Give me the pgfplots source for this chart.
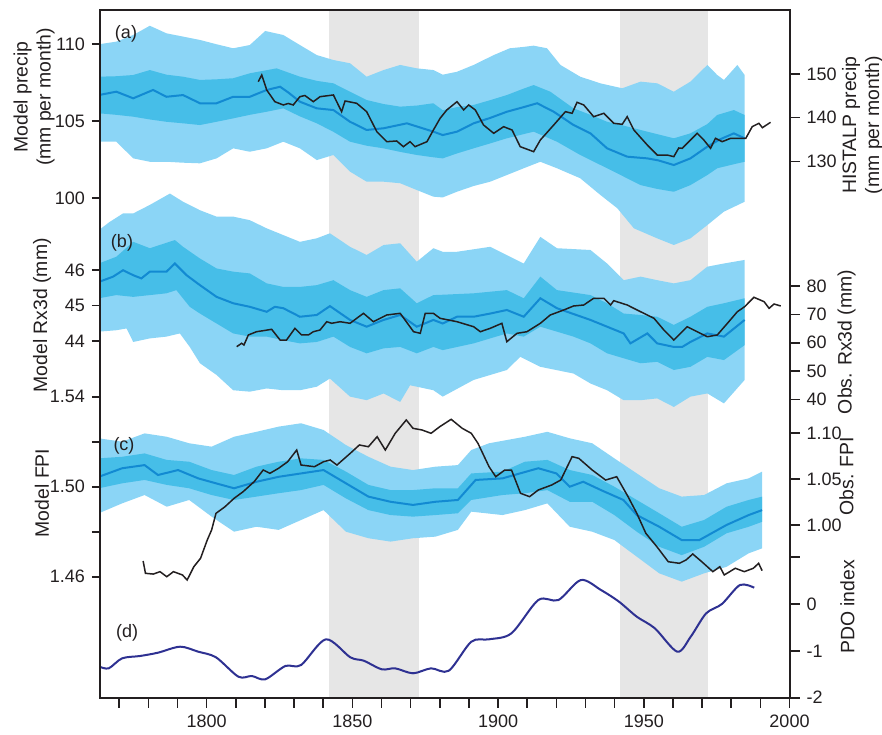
\documentclass[border=0pt]{standalone}
\usepackage{fontspec}
\setmainfont{Liberation Sans}
\usepackage{pgfplots}
\pgfplotsset{compat=1.18}
\usepgfplotslibrary{fillbetween}
\definecolor{lightb}{RGB}{139,213,246}
\definecolor{darkb}{RGB}{70,190,232}
\definecolor{meanb}{RGB}{18,138,210}
\definecolor{shade}{RGB}{230,230,230}
\definecolor{pdoc}{RGB}{46,49,146}
\definecolor{obs}{RGB}{35,31,32}
\pgfplotsset{
  /pgf/number format/assume math mode=true,
  every axis/.append style={scale only axis, width=344.75pt, height=343.85pt,
    xmin=1763.4, xmax=2000, tick align=outside,
    every tick label/.append style={font=\fontsize{9}{10}\selectfont, text=obs},
    tick style={line width=0.8pt, color=obs}},
  ov/.style={at={(base.south west)}, anchor=south west, hide x axis, xtick=\empty},
  ovl/.style={ov, axis y line*=left, major tick length=4pt},
  ovr/.style={ov, axis y line*=right, major tick length=5pt},
  band/.style={draw=none, forget plot},
}
\begin{document}
\begin{tikzpicture}
% base: grey periods (drawn with fill between so that they lie under the bands)
\begin{axis}[name=base, ymin=0, ymax=1, axis lines=none, xtick=\empty, ytick=\empty]
\addplot[band, name path=g1b] coordinates {(1842,0) (1873,0)};
\addplot[band, name path=g1t] coordinates {(1842,1) (1873,1)};
\addplot[fill=shade, draw=none] fill between[of=g1t and g1b];
\addplot[band, name path=g2b] coordinates {(1942,0) (1972,0)};
\addplot[band, name path=g2t] coordinates {(1942,1) (1972,1)};
\addplot[fill=shade, draw=none] fill between[of=g2t and g2b];
\end{axis}
% ---------------- panel a (model, left) ----------------
\begin{axis}[ovl, ymin=67.65, ymax=112.19, ytick={100,105,110}, yticklabels={100,105,110}]
\addplot[band, name path=aot] table[row sep=\\] {x y\\
1763.0 109.97\\ 1769.0 110.14\\ 1774.8 110.57\\ 1780.5 111.17\\ 1786.2 110.68\\ 1797.7 110.25\\
1803.4 109.97\\ 1809.1 109.71\\ 1814.8 109.92\\ 1820.1 110.83\\ 1826.3 110.57\\ 1832.0 109.92\\
1837.8 109.27\\ 1843.5 108.95\\ 1849.2 108.74\\ 1854.9 107.87\\ 1860.7 108.30\\ 1866.4 108.63\\
1872.1 108.41\\ 1877.8 108.30\\ 1881.0 108.00\\ 1885.9 108.19\\ 1891.6 108.63\\ 1898.5 109.27\\
1904.0 109.71\\ 1908.8 109.80\\ 1912.2 109.88\\ 1916.8 109.71\\ 1921.4 108.63\\ 1928.2 107.87\\
1935.1 107.44\\ 1942.6 107.12\\ 1948.9 107.55\\ 1954.6 107.44\\ 1960.3 106.90\\ 1966.0 107.55\\
1971.8 108.63\\ 1975.2 107.98\\ 1977.5 107.66\\ 1982.1 108.63\\ 1984.6 107.98\\};
\addplot[band, name path=aob] table[row sep=\\] {x y\\
1763.0 103.66\\ 1769.0 103.66\\ 1774.8 102.58\\ 1780.5 102.36\\ 1786.2 102.36\\ 1791.9 102.30\\
1797.7 102.26\\ 1803.4 102.58\\ 1809.1 103.23\\ 1814.8 103.01\\ 1820.6 103.23\\ 1826.3 103.66\\
1832.0 103.23\\ 1837.8 102.47\\ 1843.5 102.80\\ 1849.2 101.72\\ 1854.9 101.07\\ 1860.7 101.07\\
1866.4 100.97\\ 1872.1 100.53\\ 1877.8 100.10\\ 1881.0 100.05\\ 1885.9 100.42\\ 1891.6 100.79\\
1897.3 101.07\\ 1903.0 101.50\\ 1908.8 101.94\\ 1914.5 102.36\\ 1920.2 101.94\\ 1928.2 101.29\\
1935.1 100.21\\ 1940.9 99.35\\ 1946.6 98.05\\ 1954.6 97.40\\ 1960.3 96.97\\ 1966.0 97.40\\
1971.8 98.26\\ 1977.5 99.13\\ 1984.6 99.77\\};
\addplot[fill=lightb, draw=none] fill between[of=aot and aob];
\addplot[band, name path=adt] table[row sep=\\] {x y\\
1763.0 107.87\\ 1769.0 107.90\\ 1774.8 107.98\\ 1780.5 108.30\\ 1786.2 108.00\\ 1791.9 107.87\\
1797.7 107.66\\ 1803.4 107.70\\ 1809.1 107.77\\ 1814.8 108.09\\ 1824.0 108.41\\ 1832.0 107.87\\
1837.8 107.60\\ 1843.5 107.44\\ 1849.2 106.90\\ 1854.9 106.36\\ 1860.7 106.10\\ 1866.4 105.93\\
1872.1 106.00\\ 1877.8 106.15\\ 1881.0 105.70\\ 1885.9 105.90\\ 1891.6 106.04\\ 1897.3 106.35\\
1903.0 106.68\\ 1908.8 107.10\\ 1912.2 107.33\\ 1917.9 106.90\\ 1925.9 105.82\\ 1931.7 105.40\\
1937.4 104.95\\ 1943.1 104.70\\ 1948.9 104.42\\ 1954.6 104.15\\ 1960.3 103.88\\ 1966.0 104.20\\
1971.8 104.80\\ 1975.2 105.39\\ 1980.9 105.71\\ 1984.6 105.39\\};
\addplot[band, name path=adb] table[row sep=\\] {x y\\
1763.0 105.50\\ 1769.0 105.40\\ 1774.8 105.28\\ 1780.5 105.10\\ 1786.2 104.95\\ 1791.9 104.85\\
1797.7 104.74\\ 1803.4 104.95\\ 1809.1 105.17\\ 1814.8 105.40\\ 1820.6 105.60\\ 1826.3 105.82\\
1832.0 105.30\\ 1837.8 104.85\\ 1843.5 104.30\\ 1849.2 103.66\\ 1854.9 103.40\\ 1860.7 103.23\\
1866.4 103.00\\ 1872.1 102.80\\ 1877.8 102.65\\ 1881.0 102.58\\ 1885.9 102.90\\ 1891.6 103.23\\
1897.3 103.55\\ 1903.0 103.88\\ 1912.2 104.31\\ 1920.2 103.66\\ 1928.2 102.80\\ 1937.4 101.94\\
1943.1 101.40\\ 1948.9 100.85\\ 1954.6 100.60\\ 1960.3 100.42\\ 1966.0 100.85\\ 1971.8 101.50\\
1975.2 101.94\\ 1980.9 102.20\\ 1984.6 102.36\\};
\addplot[fill=darkb, draw=none] fill between[of=adt and adb];
\addplot[meanb, line width=1pt] table[row sep=\\] {x y\\
1763.0 106.68\\ 1769.0 106.90\\ 1774.8 106.47\\ 1781.6 107.01\\ 1786.2 106.57\\ 1791.9 106.68\\
1797.7 106.15\\ 1803.4 106.15\\ 1809.1 106.57\\ 1814.8 106.57\\ 1820.6 107.01\\ 1825.2 107.22\\
1828.0 106.85\\ 1832.0 106.25\\ 1837.8 105.82\\ 1843.5 105.71\\ 1849.2 104.95\\ 1854.9 104.42\\
1860.7 104.53\\ 1868.7 104.85\\ 1877.8 104.31\\ 1881.0 104.09\\ 1885.9 104.31\\ 1891.6 104.85\\
1897.3 105.20\\ 1903.0 105.60\\ 1908.8 105.90\\ 1913.4 106.15\\ 1919.1 105.60\\ 1925.9 104.74\\
1931.7 104.20\\ 1937.4 103.23\\ 1944.3 102.69\\ 1951.2 102.58\\ 1955.0 102.45\\ 1960.3 102.15\\
1966.0 102.58\\ 1971.8 103.34\\ 1976.0 103.80\\ 1980.9 104.20\\ 1984.6 103.88\\};
\end{axis}
% ---------------- panel a (HISTALP, right) ----------------
\begin{axis}[ovr, ymin=7.73, ymax=164.56, ytick={130,140,150}, yticklabels={130,140,150}]
\addplot[obs, line width=0.75pt] table[row sep=\\] {x y\\
1817.7 148.21\\ 1818.9 149.74\\ 1820.6 146.32\\ 1823.4 143.65\\ 1826.3 142.90\\ 1828.0 143.24\\
1829.7 142.90\\ 1832.0 144.79\\ 1833.7 145.06\\ 1836.6 143.65\\ 1838.9 144.79\\ 1843.5 145.18\\
1846.3 141.37\\ 1847.5 143.81\\ 1851.5 143.28\\ 1854.9 141.37\\ 1858.4 136.81\\ 1861.8 134.53\\
1865.2 134.69\\ 1867.5 133.39\\ 1869.8 134.53\\ 1871.5 133.39\\ 1875.6 134.53\\ 1877.8 137.19\\
1880.1 139.86\\ 1882.4 141.76\\ 1885.9 143.65\\ 1888.2 141.76\\ 1889.9 142.90\\ 1892.2 141.76\\
1895.0 138.34\\ 1898.5 136.44\\ 1901.9 137.95\\ 1904.8 137.19\\ 1907.6 133.39\\ 1912.2 132.25\\
1914.5 134.91\\ 1919.1 138.34\\ 1923.1 141.37\\ 1925.4 141.00\\ 1927.1 143.51\\ 1929.4 142.90\\
1932.8 140.23\\ 1936.3 141.00\\ 1939.7 138.72\\ 1942.6 138.49\\ 1944.3 140.23\\ 1946.6 137.19\\
1951.2 133.77\\ 1954.6 131.49\\ 1958.0 131.49\\ 1960.3 131.11\\ 1962.0 133.09\\ 1963.2 133.02\\
1964.9 134.16\\ 1968.3 136.44\\ 1970.6 134.91\\ 1972.9 133.02\\ 1974.6 135.30\\ 1976.9 134.53\\
1979.8 135.30\\ 1985.0 135.30\\ 1987.2 137.95\\ 1989.5 138.72\\ 1990.7 137.72\\ 1993.5 138.95\\};
\end{axis}
% ---------------- panel b (model, left) ----------------
\begin{axis}[ovl, ymin=33.95, ymax=53.32, ytick={44,45,46}, yticklabels={44,45,46}]
\addplot[band, name path=bot] table[row sep=\\] {x y\\
1763.0 47.12\\ 1766.7 47.35\\ 1771.3 47.59\\ 1774.8 47.59\\ 1780.5 47.83\\ 1787.4 48.15\\
1791.9 47.92\\ 1797.7 47.68\\ 1803.4 47.50\\ 1809.1 47.50\\ 1814.8 47.40\\ 1820.6 47.17\\
1826.3 46.98\\ 1832.0 46.79\\ 1837.8 46.89\\ 1842.3 47.03\\ 1849.2 46.65\\ 1854.9 46.42\\
1860.7 46.70\\ 1866.4 46.75\\ 1872.1 46.23\\ 1877.8 46.61\\ 1881.0 46.51\\ 1885.9 46.51\\
1897.3 46.65\\ 1908.8 46.18\\ 1914.5 46.93\\ 1920.2 46.61\\ 1931.7 46.56\\ 1937.4 46.18\\
1943.1 45.71\\ 1948.9 45.81\\ 1954.6 45.71\\ 1960.3 45.62\\ 1966.0 45.71\\ 1971.8 46.09\\
1977.5 46.18\\ 1984.6 46.28\\};
\addplot[band, name path=bob] table[row sep=\\] {x y\\
1763.0 44.26\\ 1769.0 44.30\\ 1772.5 44.35\\ 1774.8 43.97\\ 1780.5 44.07\\ 1786.2 44.12\\
1790.8 44.21\\ 1794.2 43.83\\ 1797.7 43.37\\ 1803.4 43.04\\ 1809.1 42.61\\ 1814.8 42.57\\
1820.6 42.66\\ 1826.3 42.61\\ 1832.0 42.61\\ 1837.8 42.71\\ 1842.3 42.94\\ 1849.2 42.43\\
1854.9 42.33\\ 1860.7 42.52\\ 1866.4 42.28\\ 1869.8 42.75\\ 1877.8 42.61\\ 1881.0 42.43\\
1891.6 42.90\\ 1903.0 43.18\\ 1907.6 43.55\\ 1914.5 43.27\\ 1925.9 43.08\\ 1931.7 42.80\\
1937.4 42.61\\ 1943.1 42.33\\ 1948.9 42.33\\ 1954.6 42.38\\ 1960.3 42.14\\ 1966.0 42.43\\
1971.8 42.52\\ 1977.5 42.24\\ 1984.6 42.90\\};
\addplot[fill=lightb, draw=none] fill between[of=bot and bob];
\addplot[band, name path=bdt] table[row sep=\\] {x y\\
1763.0 46.18\\ 1769.0 46.37\\ 1774.8 46.79\\ 1780.5 46.61\\ 1789.1 46.84\\ 1791.9 46.65\\
1797.7 46.32\\ 1803.4 46.04\\ 1809.1 45.95\\ 1814.8 45.90\\ 1820.6 45.62\\ 1826.3 45.52\\
1832.0 45.52\\ 1837.8 45.57\\ 1843.5 45.71\\ 1849.2 45.43\\ 1854.9 45.24\\ 1860.7 45.43\\
1866.4 45.48\\ 1872.1 45.06\\ 1877.8 45.29\\ 1881.0 45.30\\ 1891.6 45.34\\ 1903.0 45.43\\
1908.8 45.20\\ 1914.5 45.81\\ 1920.2 45.43\\ 1931.7 45.29\\ 1937.4 45.06\\ 1943.1 44.77\\
1948.9 44.73\\ 1954.6 44.68\\ 1960.3 44.45\\ 1966.0 44.68\\ 1971.8 44.96\\ 1977.5 45.06\\
1984.6 45.20\\};
\addplot[band, name path=bdb] table[row sep=\\] {x y\\
1763.0 45.20\\ 1769.0 45.29\\ 1774.8 45.24\\ 1780.5 45.29\\ 1786.2 45.34\\ 1789.6 45.43\\
1794.2 44.96\\ 1797.7 44.77\\ 1803.4 44.49\\ 1809.1 44.21\\ 1814.8 44.12\\ 1820.6 44.12\\
1826.3 44.02\\ 1832.0 43.93\\ 1837.8 43.97\\ 1843.5 44.12\\ 1849.2 43.83\\ 1854.9 43.65\\
1860.7 43.79\\ 1866.4 43.83\\ 1872.1 43.65\\ 1877.8 43.83\\ 1881.0 43.74\\ 1891.6 43.93\\
1903.0 44.21\\ 1908.8 44.12\\ 1914.5 44.40\\ 1925.9 44.12\\ 1931.7 43.93\\ 1937.4 43.65\\
1943.1 43.51\\ 1948.9 43.37\\ 1954.6 43.41\\ 1960.3 43.18\\ 1966.0 43.27\\ 1971.8 43.55\\
1977.5 43.46\\ 1984.6 43.88\\};
\addplot[fill=darkb, draw=none] fill between[of=bdt and bdb];
\addplot[meanb, line width=1pt] table[row sep=\\] {x y\\
1763.0 45.66\\ 1767.9 45.81\\ 1771.3 45.99\\ 1774.8 45.85\\ 1777.6 45.76\\ 1780.5 45.95\\
1786.2 45.95\\ 1789.1 46.18\\ 1793.1 45.85\\ 1797.7 45.57\\ 1803.4 45.24\\ 1809.1 45.06\\
1814.8 44.96\\ 1820.6 44.82\\ 1823.4 44.96\\ 1826.3 44.92\\ 1832.0 44.68\\ 1837.8 44.73\\
1842.3 44.98\\ 1849.2 44.59\\ 1854.9 44.40\\ 1860.7 44.59\\ 1866.4 44.73\\ 1872.1 44.40\\
1877.8 44.59\\ 1881.0 44.49\\ 1885.9 44.68\\ 1891.6 44.68\\ 1897.3 44.77\\ 1903.0 44.87\\
1908.8 44.68\\ 1914.5 45.20\\ 1920.2 44.92\\ 1931.7 44.59\\ 1937.4 44.40\\ 1943.1 44.21\\
1945.4 43.93\\ 1951.2 44.21\\ 1954.6 43.93\\ 1960.3 43.83\\ 1963.2 43.83\\ 1966.0 43.97\\
1971.8 44.21\\ 1977.5 44.12\\ 1984.6 44.59\\};
\end{axis}
% ---------------- panel b (obs, right) ----------------
\begin{axis}[ovr, ymin=-65.33, ymax=177.46, ytick={40,50,60,70,80}, yticklabels={40,50,60,70,80}]
\addplot[obs, line width=0.75pt] table[row sep=\\] {x y\\
1810.3 58.59\\ 1812.0 59.79\\ 1812.8 59.19\\ 1814.3 62.72\\ 1817.1 63.88\\ 1819.4 64.24\\
1822.3 64.73\\ 1825.2 60.95\\ 1827.4 60.95\\ 1830.3 65.08\\ 1832.6 62.72\\ 1834.9 62.72\\
1836.6 63.88\\ 1838.9 64.48\\ 1841.2 67.41\\ 1842.9 66.85\\ 1845.8 67.41\\ 1849.2 66.85\\
1853.8 70.38\\ 1857.2 67.41\\ 1861.8 69.78\\ 1866.4 70.38\\ 1871.0 63.88\\ 1873.3 63.32\\
1875.0 70.38\\ 1877.8 70.38\\ 1880.1 68.61\\ 1885.9 67.41\\ 1891.6 65.65\\ 1893.9 63.88\\
1897.3 65.08\\ 1901.3 66.85\\ 1903.0 60.35\\ 1906.5 63.32\\ 1909.9 63.88\\ 1914.5 66.85\\
1917.9 69.78\\ 1922.5 71.54\\ 1925.9 72.96\\ 1929.4 73.31\\ 1932.8 75.68\\ 1936.3 75.68\\
1938.6 73.31\\ 1939.7 74.83\\ 1944.3 73.31\\ 1948.9 70.94\\ 1953.5 68.61\\ 1956.9 64.48\\
1960.3 60.95\\ 1964.9 65.65\\ 1968.3 63.88\\ 1971.8 62.12\\ 1975.2 62.72\\ 1978.7 66.85\\
1982.1 70.94\\ 1984.6 72.71\\ 1987.8 76.03\\ 1991.3 74.47\\ 1993.0 72.14\\ 1994.7 73.66\\
1997.0 72.96\\};
\end{axis}
% ---------------- panel c (model, left) ----------------
\begin{axis}[ovl, ymin=1.40622, ymax=1.71187, ytick={1.46,1.48,1.50,1.52,1.54}, yticklabels={1.46,,1.50,,1.54}]
\addplot[band, name path=cot] table[row sep=\\] {x y\\
1763.0 1.5215\\ 1771.0 1.5200\\ 1778.7 1.5237\\ 1786.3 1.5222\\ 1794.0 1.5193\\ 1801.7 1.5178\\
1809.4 1.5222\\ 1817.1 1.5244\\ 1824.7 1.5267\\ 1832.4 1.5282\\ 1840.1 1.5252\\ 1847.8 1.5185\\
1855.5 1.5133\\ 1863.1 1.5089\\ 1870.8 1.5074\\ 1878.5 1.5089\\ 1886.2 1.5096\\ 1890.8 1.5163\\
1896.9 1.5193\\ 1909.2 1.5222\\ 1916.9 1.5244\\ 1924.6 1.5215\\ 1932.3 1.5193\\ 1939.9 1.5126\\
1947.6 1.5059\\ 1955.3 1.4993\\ 1963.0 1.4956\\ 1970.7 1.4963\\ 1978.4 1.5015\\ 1986.0 1.5037\\
1990.6 1.5067\\};
\addplot[band, name path=cob] table[row sep=\\] {x y\\
1763.0 1.4882\\ 1771.0 1.4926\\ 1778.7 1.4963\\ 1786.3 1.4911\\ 1794.0 1.4941\\ 1801.7 1.4867\\
1809.4 1.4800\\ 1817.1 1.4822\\ 1824.7 1.4808\\ 1832.4 1.4852\\ 1840.1 1.4896\\ 1847.8 1.4800\\
1855.5 1.4771\\ 1863.1 1.4756\\ 1870.8 1.4771\\ 1878.5 1.4778\\ 1886.2 1.4808\\ 1890.8 1.4889\\
1901.5 1.4874\\ 1909.2 1.4896\\ 1916.9 1.4926\\ 1924.6 1.4822\\ 1932.3 1.4800\\ 1939.9 1.4763\\
1947.6 1.4689\\ 1955.3 1.4615\\ 1963.0 1.4578\\ 1970.7 1.4615\\ 1978.4 1.4644\\ 1986.0 1.4704\\
1990.6 1.4726\\};
\addplot[fill=lightb, draw=none] fill between[of=cot and cob];
\addplot[band, name path=cdt] table[row sep=\\] {x y\\
1763.0 1.5126\\ 1771.0 1.5133\\ 1778.7 1.5148\\ 1786.3 1.5119\\ 1794.0 1.5111\\ 1801.7 1.5074\\
1809.4 1.5052\\ 1817.1 1.5089\\ 1824.7 1.5111\\ 1832.4 1.5126\\ 1840.1 1.5119\\ 1847.8 1.5067\\
1855.5 1.5008\\ 1863.1 1.4985\\ 1870.8 1.4985\\ 1878.5 1.4993\\ 1886.2 1.4993\\ 1890.8 1.5059\\
1901.5 1.5067\\ 1909.2 1.5111\\ 1916.9 1.5119\\ 1924.6 1.5074\\ 1932.3 1.5052\\ 1939.9 1.5000\\
1947.6 1.4941\\ 1955.3 1.4882\\ 1963.0 1.4822\\ 1970.7 1.4852\\ 1978.4 1.4911\\ 1986.0 1.4941\\
1990.6 1.4956\\};
\addplot[band, name path=cdb] table[row sep=\\] {x y\\
1763.0 1.4993\\ 1771.0 1.5015\\ 1778.7 1.5030\\ 1786.3 1.5008\\ 1794.0 1.4993\\ 1801.7 1.4963\\
1809.4 1.4941\\ 1817.1 1.4956\\ 1824.7 1.4971\\ 1832.4 1.4985\\ 1840.1 1.5008\\ 1847.8 1.4948\\
1855.5 1.4896\\ 1863.1 1.4874\\ 1870.8 1.4867\\ 1878.5 1.4874\\ 1886.2 1.4882\\ 1890.8 1.4941\\
1901.5 1.4963\\ 1909.2 1.4971\\ 1916.9 1.4985\\ 1924.6 1.4933\\ 1932.3 1.4933\\ 1939.9 1.4874\\
1947.6 1.4800\\ 1955.3 1.4733\\ 1963.0 1.4696\\ 1970.7 1.4733\\ 1978.4 1.4793\\ 1986.0 1.4822\\
1990.6 1.4844\\};
\addplot[fill=darkb, draw=none] fill between[of=cdt and cdb];
\addplot[meanb, line width=1pt] table[row sep=\\] {x y\\
1763.0 1.5044\\ 1771.0 1.5082\\ 1778.7 1.5096\\ 1783.3 1.5052\\ 1790.2 1.5074\\ 1797.1 1.5037\\
1803.2 1.5015\\ 1809.4 1.4993\\ 1817.1 1.5022\\ 1824.7 1.5044\\ 1832.4 1.5059\\ 1840.1 1.5074\\
1847.8 1.5015\\ 1855.5 1.4956\\ 1863.1 1.4933\\ 1870.8 1.4919\\ 1878.5 1.4933\\ 1886.2 1.4941\\
1892.3 1.5030\\ 1901.5 1.5037\\ 1913.8 1.5082\\ 1920.0 1.5059\\ 1924.6 1.5000\\ 1929.2 1.5022\\
1935.3 1.4985\\ 1943.0 1.4941\\ 1947.6 1.4874\\ 1955.3 1.4822\\ 1963.0 1.4763\\ 1969.1 1.4763\\
1978.4 1.4830\\ 1986.0 1.4874\\ 1990.6 1.4896\\};
\end{axis}
% ---------------- panel c (obs, right) ----------------
\begin{axis}[ovr, ymin=0.8126, ymax=1.5601, ytick={1.00,1.05,1.10}, yticklabels={1.00,1.05,1.10}]
\addplot[obs, line width=0.75pt] table[row sep=\\] {x y\\
1778.2 0.9612\\ 1779.0 0.9478\\ 1781.7 0.9470\\ 1784.0 0.9496\\ 1786.3 0.9441\\ 1788.6 0.9496\\
1791.7 0.9460\\ 1793.3 0.9405\\ 1795.6 0.9550\\ 1797.9 0.9641\\ 1800.2 0.9840\\ 1801.7 0.9949\\
1803.2 1.0130\\ 1806.3 1.0202\\ 1809.4 1.0293\\ 1812.5 1.0365\\ 1816.3 1.0474\\ 1819.4 1.0601\\
1821.7 1.0565\\ 1824.7 1.0620\\ 1827.8 1.0691\\ 1830.9 1.0818\\ 1832.4 1.0655\\ 1837.0 1.0637\\
1840.1 1.0691\\ 1842.4 1.0710\\ 1844.7 1.0655\\ 1849.3 1.0783\\ 1852.4 1.0873\\ 1855.5 1.0854\\
1858.5 1.0963\\ 1861.3 1.0818\\ 1864.7 1.1000\\ 1868.5 1.1145\\ 1870.8 1.1054\\ 1873.9 1.1036\\
1877.0 1.1000\\ 1880.0 1.1072\\ 1883.9 1.1152\\ 1887.7 1.1054\\ 1890.8 1.1000\\ 1893.1 1.0891\\
1896.9 1.0637\\ 1899.2 1.0528\\ 1902.3 1.0601\\ 1904.6 1.0601\\ 1907.7 1.0348\\ 1910.8 1.0311\\
1913.8 1.0384\\ 1918.4 1.0438\\ 1921.5 1.0492\\ 1925.4 1.0746\\ 1927.7 1.0728\\ 1932.3 1.0601\\
1936.9 1.0492\\ 1940.7 1.0528\\ 1944.6 1.0311\\ 1947.6 1.0130\\ 1950.7 0.9913\\ 1954.5 0.9767\\
1958.4 0.9604\\ 1962.2 0.9587\\ 1964.5 0.9623\\ 1966.8 0.9688\\ 1969.9 0.9604\\ 1973.7 0.9496\\
1976.1 0.9550\\ 1977.6 0.9460\\ 1981.4 0.9533\\ 1984.5 0.9496\\ 1987.6 0.9533\\ 1989.4 0.9587\\
1990.6 0.9507\\};
\end{axis}
% ---------------- panel d (PDO, right) ----------------
\begin{axis}[ovr, ymin=-2, ymax=12.68, ytick={-2,-1,0,1}, yticklabels={-2,-1,0,{}}]
\addplot[pdoc, line width=1pt, smooth, tension=0.5] table[row sep=\\] {x y\\
1763.3 -1.338\\ 1766.4 -1.373\\ 1771.0 -1.159\\ 1777.1 -1.110\\ 1783.3 -1.039\\ 1790.9 -0.911\\
1797.1 -1.018\\ 1803.2 -1.138\\ 1810.9 -1.552\\ 1815.5 -1.537\\ 1820.1 -1.607\\ 1827.0 -1.323\\
1832.4 -1.302\\ 1840.9 -0.754\\ 1849.3 -1.138\\ 1853.9 -1.210\\ 1860.1 -1.394\\ 1864.7 -1.373\\
1870.8 -1.479\\ 1877.0 -1.373\\ 1883.1 -1.424\\ 1890.8 -0.805\\ 1896.9 -0.754\\ 1904.6 -0.625\\
1913.8 0.085\\ 1920.7 0.085\\ 1928.4 0.512\\ 1935.3 0.299\\ 1941.5 0.049\\ 1947.6 -0.271\\
1953.8 -0.519\\ 1961.5 -1.018\\ 1966.1 -0.698\\ 1971.4 -0.199\\ 1976.8 0.000\\ 1983.0 0.406\\
1987.9 0.348\\};
\end{axis}
% ---------------- frame and x axis ----------------
\begin{axis}[at={(base.south west)}, anchor=south west, ymin=0, ymax=1, ytick=\empty,
  axis line style={line width=1pt, obs},
  xtick={1800,1850,1900,1950,2000}, xticklabels={1800,1850,1900,1950,2000},
  minor xtick={1770,1780,1790,1810,1820,1830,1840,1860,1870,1880,1890,1910,1920,1930,1940,1960,1970,1980,1990},
  xtick pos=left, major tick length=5pt, minor tick length=5pt,
  minor tick style={line width=0.8pt, obs}, clip=false]
\begin{scope}[every node/.style={font=\fontsize{9.7}{11.5}\selectfont, text=obs, align=center}]
\node[xshift=-33pt, rotate=90] at (rel axis cs:0,0.8735) {Model precip\\(mm per month)};
\node[xshift=-29pt, rotate=90] at (rel axis cs:0,0.556) {Model Rx3d (mm)};
\node[xshift=-29pt, rotate=90] at (rel axis cs:0,0.2977) {Model FPI};
\node[xshift=36.5pt, rotate=90] at (rel axis cs:1,0.8326) {HISTALP precip\\(mm per month)};
\node[xshift=28.5pt, rotate=90] at (rel axis cs:1,0.5172) {Obs. Rx3d (mm)};
\node[xshift=28.5pt, rotate=90] at (rel axis cs:1,0.3224) {Obs. FPI};
\node[xshift=29pt, rotate=90] at (rel axis cs:1,0.1319) {PDO index};
\end{scope}
\begin{scope}[every node/.style={font=\fontsize{9}{10}\selectfont, text=obs}]
\node at (rel axis cs:0.0377,0.9651) {(a)};
\node at (rel axis cs:0.0319,0.661) {(b)};
\node at (rel axis cs:0.0348,0.366) {(c)};
\node at (rel axis cs:0.0392,0.0948) {(d)};
\end{scope}
\end{axis}
\pgfresetboundingbox
\path[use as bounding box] ([shift={(-50pt,-18.15pt)}]base.south west) rectangle ([shift={(46.25pt,5pt)}]base.north east);
\end{tikzpicture}
\end{document}
